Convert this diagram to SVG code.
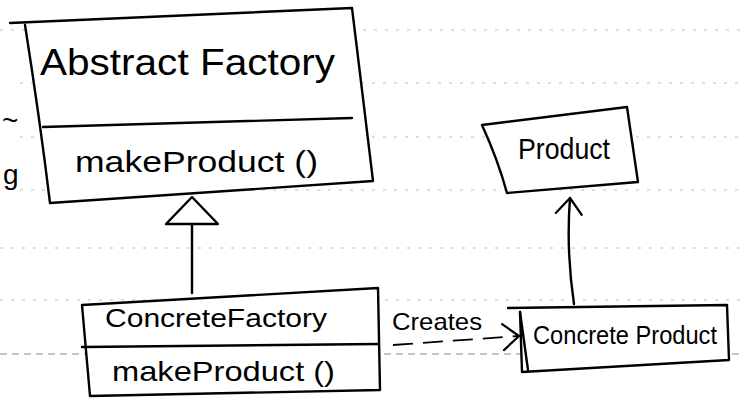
<svg xmlns="http://www.w3.org/2000/svg" width="741" height="398" viewBox="0 0 741 398">
<style>
.rule{stroke:#bdbdbd;stroke-width:1.2;stroke-dasharray:3 8;fill:none}
.rule2{stroke:#8a8a8a;stroke-width:1.2;stroke-dasharray:7 5;fill:none}
.box{fill:#fff;stroke:#000;stroke-width:2.4;stroke-linejoin:round;stroke-linecap:round}
.ln{fill:none;stroke:#000;stroke-width:2.4;stroke-linecap:round;stroke-linejoin:round}
.dash{fill:none;stroke:#000;stroke-width:1.8;stroke-dasharray:20 10}
.hw{font-family:"Liberation Sans","Open Sans",sans-serif;fill:#000}
</style>
<defs>
<marker id="tri" markerUnits="userSpaceOnUse" markerWidth="60" markerHeight="60" viewBox="-2 -30 34 60" refX="0" refY="0" orient="auto" overflow="visible">
<path d="M0,-26 L27,0 L0,26 Z" fill="#fff" stroke="#000" stroke-width="2.4" stroke-linejoin="round"/>
</marker>
<marker id="open" markerUnits="userSpaceOnUse" markerWidth="40" markerHeight="40" viewBox="-20 -20 24 40" refX="0" refY="0" orient="auto" overflow="visible">
<path d="M-16,-13 L0,0 L-16,13" fill="none" stroke="#000" stroke-width="2.2" stroke-linecap="round" stroke-linejoin="round"/>
</marker>
</defs>
<rect width="741" height="398" fill="#fff"/>
<g id="paper-rules">
<path class="rule" d="M0,30 L741,30 M20,83 L741,83 M20,137 L741,137 M20,190 L741,190 M0,248 L741,248 M0,300 L741,300"/>
<path class="rule2" d="M0,354 L741,354"/>
</g>
<g id="margin-fragments">
<text class="hw" x="2" y="130" font-size="28">~</text>
<text class="hw" x="3" y="184" font-size="28">g</text>
</g>
<g id="abstract-factory">
<path class="box" d="M10,23 L352,8 L362,90 L373,181 L50,203 Q40,120 25,25"/>
<path class="ln" d="M43,127 L352,118"/>
<text class="hw" x="40" y="75" font-size="36" textLength="295" lengthAdjust="spacingAndGlyphs">Abstract Factory</text>
<text class="hw" x="75" y="172" font-size="30" textLength="243" lengthAdjust="spacingAndGlyphs">makeProduct ()</text>
</g>
<g id="concrete-factory">
<path class="box" d="M82,305 L378,288 L380,390 L90,396 Z"/>
<path class="ln" d="M82,347 L378,344"/>
<text class="hw" x="105" y="327" font-size="26" textLength="222" lengthAdjust="spacingAndGlyphs">ConcreteFactory</text>
<text class="hw" x="112" y="381" font-size="28" textLength="223" lengthAdjust="spacingAndGlyphs">makeProduct ()</text>
</g>
<g id="product">
<path class="box" d="M482,125 L627,107 L638,182 L507,193 Q498,160 482,125 Z"/>
<text class="hw" x="518" y="159" font-size="30" textLength="92" lengthAdjust="spacingAndGlyphs">Product</text>
</g>
<g id="concrete-product">
<path class="box" d="M508,308 L727,305 L729,360 L522,372 L520,312"/>
<path class="ln" d="M520,312 L528,370"/>
<text class="hw" x="533" y="344" font-size="26" textLength="184" lengthAdjust="spacingAndGlyphs">Concrete Product</text>
</g>
<g id="connectors">
<path class="ln" d="M192,293 L192,224" marker-end="url(#tri)"/>
<path class="ln" d="M574,304 Q566,250 570,198" marker-end="url(#open)"/>
<path class="dash" d="M393,345 L519,336" marker-end="url(#open)"/>
<text class="hw" x="392" y="330" font-size="24" textLength="90" lengthAdjust="spacingAndGlyphs">Creates</text>
</g>
</svg>
